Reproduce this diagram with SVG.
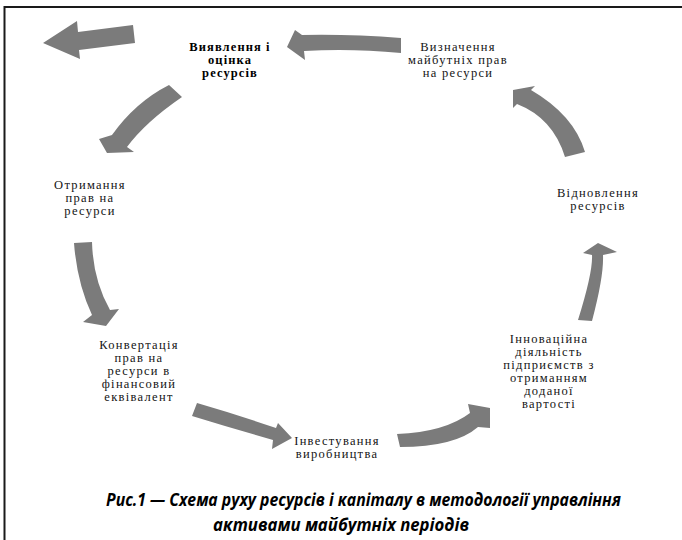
<svg xmlns="http://www.w3.org/2000/svg" width="682" height="540" viewBox="0 0 682 540">
<style>
.bg{fill:#ffffff}
.frame{stroke:#1a1a1a;stroke-width:2;fill:none}
.arr{fill:#7b7b7b}
.t{font-family:"Liberation Serif","Tinos","Times New Roman","DejaVu Serif",serif;font-size:12.5px;fill:#141414;text-anchor:middle;letter-spacing:1.3px}
.tb{font-family:"Liberation Serif","Tinos","Times New Roman","DejaVu Serif",serif;font-size:12.5px;font-weight:bold;fill:#000;text-anchor:middle;letter-spacing:1.1px}
.cap{font-family:"Open Sans","Noto Sans",sans-serif;font-size:17px;font-weight:bold;font-style:italic;fill:#000;text-anchor:start}
</style>
<rect class="bg" x="0" y="0" width="682" height="540"/>
<path class="frame" d="M4.5,540 L4.5,7 L682,7"/>

<g id="connectors">
  <path class="arr" d="M133,25 L78,32 L77,21 L43,43 L80,59 L79,50 L135,43 Z"/>
  <path class="arr" d="M401,38 Q350,34 302,35 L295,30 L287,47 L305,60 L304,51 Q350,48 401,53 Z"/>
  <path class="arr" d="M169,85 Q135.5,102 112,135 L99,139 L107,153 L134,152 L127,147 Q145.5,122 182,97 Z"/>
  <path class="arr" d="M74,243 Q77,283 92,315 L83,322 L106,326 L119,309 L110,310 Q93,280 92,242 Z"/>
  <path class="arr" d="M197,403 Q235,414 276,428 L278,423 L292,438 L272,449 L273,440 Q231,428 192,416 Z"/>
  <path class="arr" d="M397,434 Q445,432 470,413 L468,404 L490,408 L490,428 L478,427 Q455,447 400,447 Z"/>
  <path class="arr" d="M578,320 Q593,272 592,255 L583,253 L598,243 L617,252 L603,255 Q604,276 592,321 Z"/>
  <path class="arr" d="M565,157 Q553,118 517,104 L513,108 L513,90 L535,86 L531,90 Q574,115 585,152 Z"/>
</g>

<g id="node-vyiavlennia">
  <text class="tb" x="230" y="51">Виявлення і</text>
  <text class="tb" x="230" y="64">оцінка</text>
  <text class="tb" x="230" y="77">ресурсів</text>
</g>
<g id="node-vyznachennia">
  <text class="t" x="458" y="51">Визначення</text>
  <text class="t" x="458" y="64">майбутніх прав</text>
  <text class="t" x="458" y="77">на ресурси</text>
</g>
<g id="node-vidnovlennia">
  <text class="t" x="598" y="197">Відновлення</text>
  <text class="t" x="598" y="210">ресурсів</text>
</g>
<g id="node-otrymannia">
  <text class="t" x="90" y="189">Отримання</text>
  <text class="t" x="90" y="202">прав на</text>
  <text class="t" x="90" y="215">ресурси</text>
</g>
<g id="node-konvertatsiia">
  <text class="t" x="139" y="349">Конвертація</text>
  <text class="t" x="139" y="362">прав на</text>
  <text class="t" x="139" y="375">ресурси в</text>
  <text class="t" x="139" y="388">фінансовий</text>
  <text class="t" x="139" y="401">еквівалент</text>
</g>
<g id="node-investuvannia">
  <text class="t" x="337" y="445">Інвестування</text>
  <text class="t" x="337" y="458">виробництва</text>
</g>
<g id="node-innovatsiina">
  <text class="t" x="549" y="343">Інноваційна</text>
  <text class="t" x="549" y="356">діяльність</text>
  <text class="t" x="549" y="369">підприємств з</text>
  <text class="t" x="549" y="382">отриманням</text>
  <text class="t" x="549" y="395">доданої</text>
  <text class="t" x="549" y="408">вартості</text>
</g>

<g id="caption">
  <text class="cap" x="106" y="506" textLength="515" lengthAdjust="spacingAndGlyphs">Рис.1 — Схема руху ресурсів і капіталу в методології управління</text>
  <text class="cap" x="213" y="531" textLength="256" lengthAdjust="spacingAndGlyphs">активами майбутніх періодів</text>
</g>
</svg>
